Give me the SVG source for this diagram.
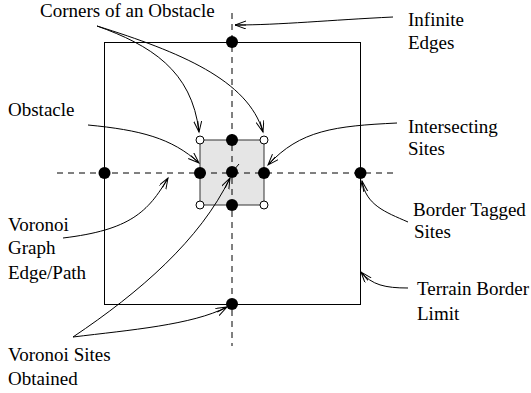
<svg xmlns="http://www.w3.org/2000/svg" width="531" height="393" viewBox="0 0 531 393">
<style>
text{font-family:"Liberation Serif","Times New Roman",serif;font-size:19px;fill:#000}
.dash{stroke:#000;stroke-width:1;stroke-dasharray:6,5;fill:none}
.dot{fill:#000}
.open{fill:#fff;stroke:#000;stroke-width:1}
.con{fill:none;stroke:#000;stroke-width:1;marker-end:url(#ah)}
</style>
<defs>
<marker id="ah" markerUnits="userSpaceOnUse" markerWidth="14" markerHeight="10" refX="11" refY="4" orient="auto" viewBox="0 0 14 10">
<path d="M0,0 L11,4 L0,8 M0,4 L11,4" fill="none" stroke="#000" stroke-width="1"/>
</marker>
</defs>
<g id="terrain-border"><rect x="104.5" y="42.5" width="256" height="262" fill="none" stroke="#000" stroke-width="1"/></g>
<g id="obstacle"><rect x="200" y="140" width="64" height="65" fill="#e5e5e5" stroke="#333" stroke-width="1"/></g>
<g id="voronoi-edges">
<line class="dash" x1="232" y1="13" x2="232" y2="346"/>
<line class="dash" x1="57" y1="173" x2="394" y2="173"/>
</g>
<g id="sites">
<circle class="dot" cx="232" cy="42" r="6"/>
<circle class="dot" cx="104.5" cy="173" r="6"/>
<circle class="dot" cx="200" cy="173" r="6"/>
<circle class="dot" cx="232" cy="172" r="6"/>
<circle class="dot" cx="264" cy="173" r="6"/>
<circle class="dot" cx="360.5" cy="173" r="6"/>
<circle class="dot" cx="232" cy="140" r="6"/>
<circle class="dot" cx="232" cy="205" r="6"/>
<circle class="dot" cx="232" cy="304" r="6"/>
</g>
<g id="corners">
<circle class="open" cx="200" cy="140" r="4"/>
<circle class="open" cx="264" cy="140" r="4"/>
<circle class="open" cx="200" cy="205" r="4"/>
<circle class="open" cx="264" cy="205" r="4"/>
</g>
<g id="connectors">
<path class="con" d="M97,26 C150,45 192,70 199,132"/>
<path class="con" d="M97,26 C180,52 248,80 263,132"/>
<path class="con" d="M393,17 C330,20 280,25 235,25"/>
<path class="con" d="M88,125 C140,130 172,138 199,163"/>
<path class="con" d="M397,123 C335,126 300,130 268,165"/>
<path class="con" d="M63,238 C130,230 148,212 168,178"/>
<path class="con" d="M73,337 C140,292 200,240 230,178"/>
<path class="con" d="M73,337 C130,330 192,325 227,307"/>
<line x1="233" y1="171" x2="239" y2="164" stroke="#000" stroke-width="1"/>
<path class="con" d="M408,222 C385,212 366,205 362,181"/>
<path class="con" d="M408,288 C385,288 372,285 361,272"/>
</g>
<g id="labels">
<text x="40" y="17">Corners of an Obstacle</text>
<text x="408" y="26">Infinite</text>
<text x="408" y="49">Edges</text>
<text x="8" y="116">Obstacle</text>
<text x="408" y="133">Intersecting</text>
<text x="408" y="155">Sites</text>
<text x="8" y="231">Voronoi</text>
<text x="8" y="254">Graph</text>
<text x="8" y="279">Edge/Path</text>
<text x="413" y="216">Border Tagged</text>
<text x="414" y="238">Sites</text>
<text x="417" y="295">Terrain Border</text>
<text x="417" y="320">Limit</text>
<text x="8" y="361">Voronoi Sites</text>
<text x="8" y="385">Obtained</text>
</g>
</svg>
